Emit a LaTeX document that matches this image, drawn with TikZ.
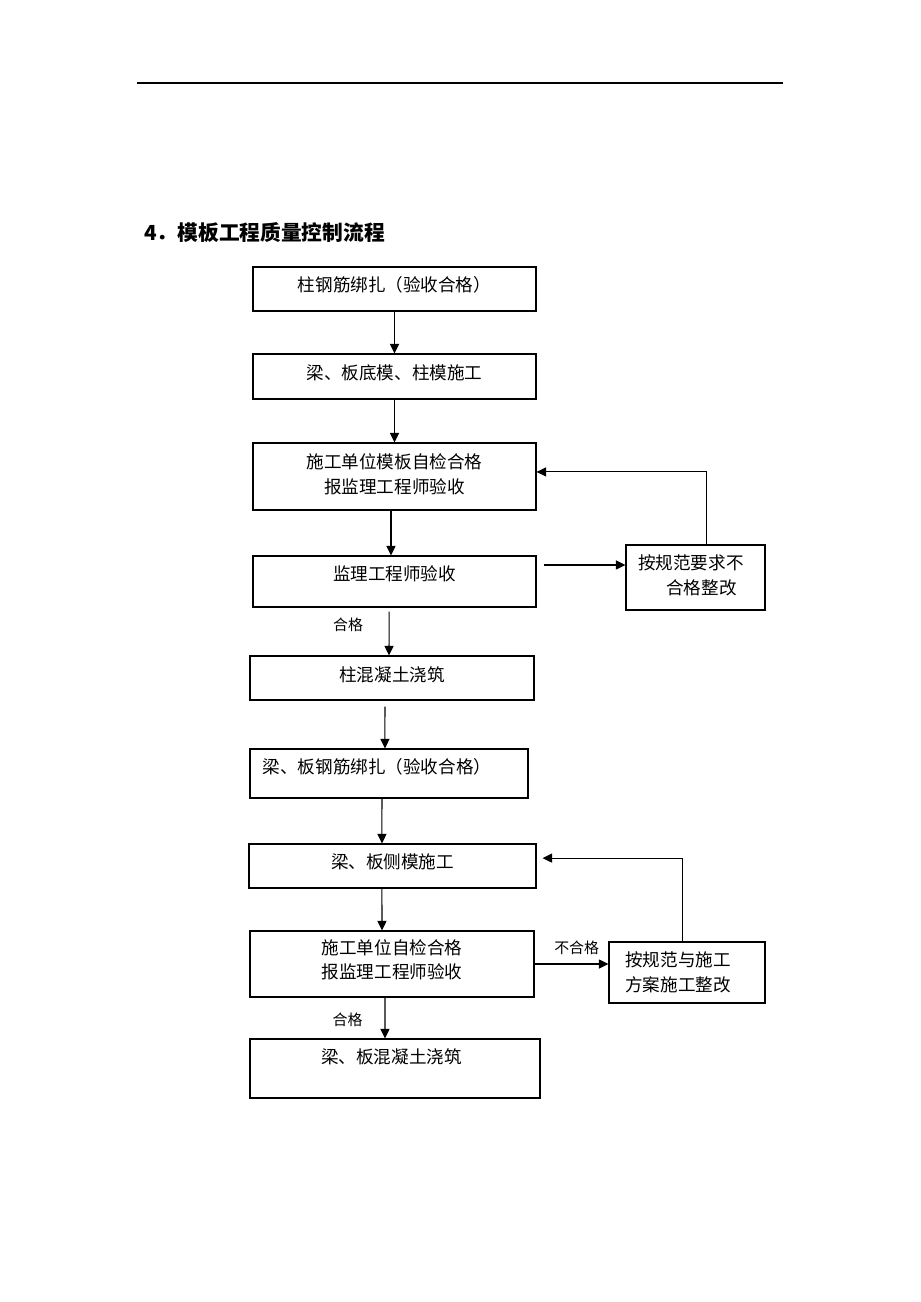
\documentclass[tikz,border=0pt]{standalone}
\usepackage{fontspec}
\setmainfont{Noto Sans CJK SC}
\usetikzlibrary{arrows.meta, positioning}
\tikzset {
    >={Triangle[length=5.5pt, width=5.2pt]},
    size/.style 2 args={minimum width=#1*0.02cm, minimum height=#2*0.02cm},
    box/.style={draw, line width=0.6pt, inner sep=0pt},
    txt/.style={font=\fontsize{10}{14}\selectfont, align=center, inner sep=0pt},
    note/.style={font=\fontsize{8.5}{10}\selectfont, inner sep=0pt},
    flow/.style={->, line width=0.6pt}
}

\begin{document}
\begin{tikzpicture}[x=0.02cm, y=-0.02cm]
    \useasboundingbox (0,0) rectangle (920,1302);
    \draw[line width=0.6pt] (137,83) -- (783,83);
    \node[anchor=west, font=\fontsize{11.8}{14}\selectfont\bfseries] (title) at (138,233) {4．模板工程质量控制流程};

    % main column
    \node[box, size={283}{44}, label={[txt, yshift=2.3pt]center:柱钢筋绑扎（验收合格）}] (b1) at (394.5,289) {};
    \node[box, size={283}{45}, label={[txt, yshift=2pt]center:梁、板底模、柱模施工}] (b2) at (394.5,376.5) {};
    \node[box, size={283}{67}, label={[txt, yshift=1.1pt]center:施工单位模板自检合格\\报监理工程师验收}] (b3) at (394.5,476.5) {};
    \node[box, size={283}{51}, label={[txt, yshift=4.3pt]center:监理工程师验收}] (b4) at (394.5,581.5) {};
    \node[box, size={284}{44}, label={[txt, yshift=1.7pt]center:柱混凝土浇筑}] (b5) at (392,678) {};
    \node[box, size={278}{49}, label={[txt, xshift=-6.8pt, yshift=3.7pt]center:梁、板钢筋绑扎（验收合格）}] (b6) at (389,773.5) {};
    \node[box, size={287}{44}, label={[txt, yshift=2.3pt]center:梁、板侧模施工}] (b7) at (392.5,866) {};
    \node[box, size={284}{66}, label={[txt, yshift=2.3pt]center:施工单位自检合格\\报监理工程师验收}] (b8) at (392,964) {};
    \node[box, size={290}{59}, label={[txt, xshift=-2pt, yshift=6.5pt]center:梁、板混凝土浇筑}] (b9) at (395,1068.5) {};

    % rework boxes
    \node[box, size={139}{65}, label={[txt, align=left, xshift=-2.6pt, yshift=1.4pt]center:按规范要求不\\\hspace*{1.6em}合格整改}] (r1) at (695.5,577.5) {};
    \node[box, size={156}{61}, label={[txt, align=left, xshift=-5.1pt]center:按规范与施工\\方案施工整改}] (r2) at (687,972.5) {};

    \draw[flow] (b1.south) -- (b2.north);
    \draw[flow] (b2.south) -- (b3.north);
    \draw[flow] ([xshift=-2pt]b3.south) -- ([xshift=-2pt]b4.north);
    \draw[flow] ([xshift=-3.1pt, yshift=-2.3pt]b4.south) -- node[note, pos=0.31, left=14.5pt] (ok1) {合格} ([xshift=-1.7pt]b5.north);
    \draw[flow] ([xshift=-4pt, yshift=-3.4pt]b5.south) -- ([xshift=-2.3pt]b6.north);
    \draw[flow] ([xshift=-4pt]b6.south) -- ([xshift=-6pt]b7.north);
    \draw[flow] ([xshift=-6pt]b7.south) -- ([xshift=-5.7pt]b8.north);
    \draw[flow] ([xshift=-4pt]b8.south) -- node[note, pos=0.55, left=12.5pt] (ok2) {合格} ([xshift=-5.7pt]b9.north);

    \draw[flow] ([xshift=4pt, yshift=9.4pt]b4.east) -- ([yshift=9.4pt]b4.east -| r1.west);
    \draw[flow] ([xshift=6pt]r1.north) |- ([yshift=2.6pt]b3.east);
    \draw[flow] (b8.east) -- node[note, pos=0.57, above=5pt] (bad) {不合格} (b8.east -| r2.west);
    \draw[flow] ([xshift=-2.8pt]r2.north) |- ([xshift=3.4pt, yshift=4.5pt]b7.east);
\end{tikzpicture}
\end{document}
